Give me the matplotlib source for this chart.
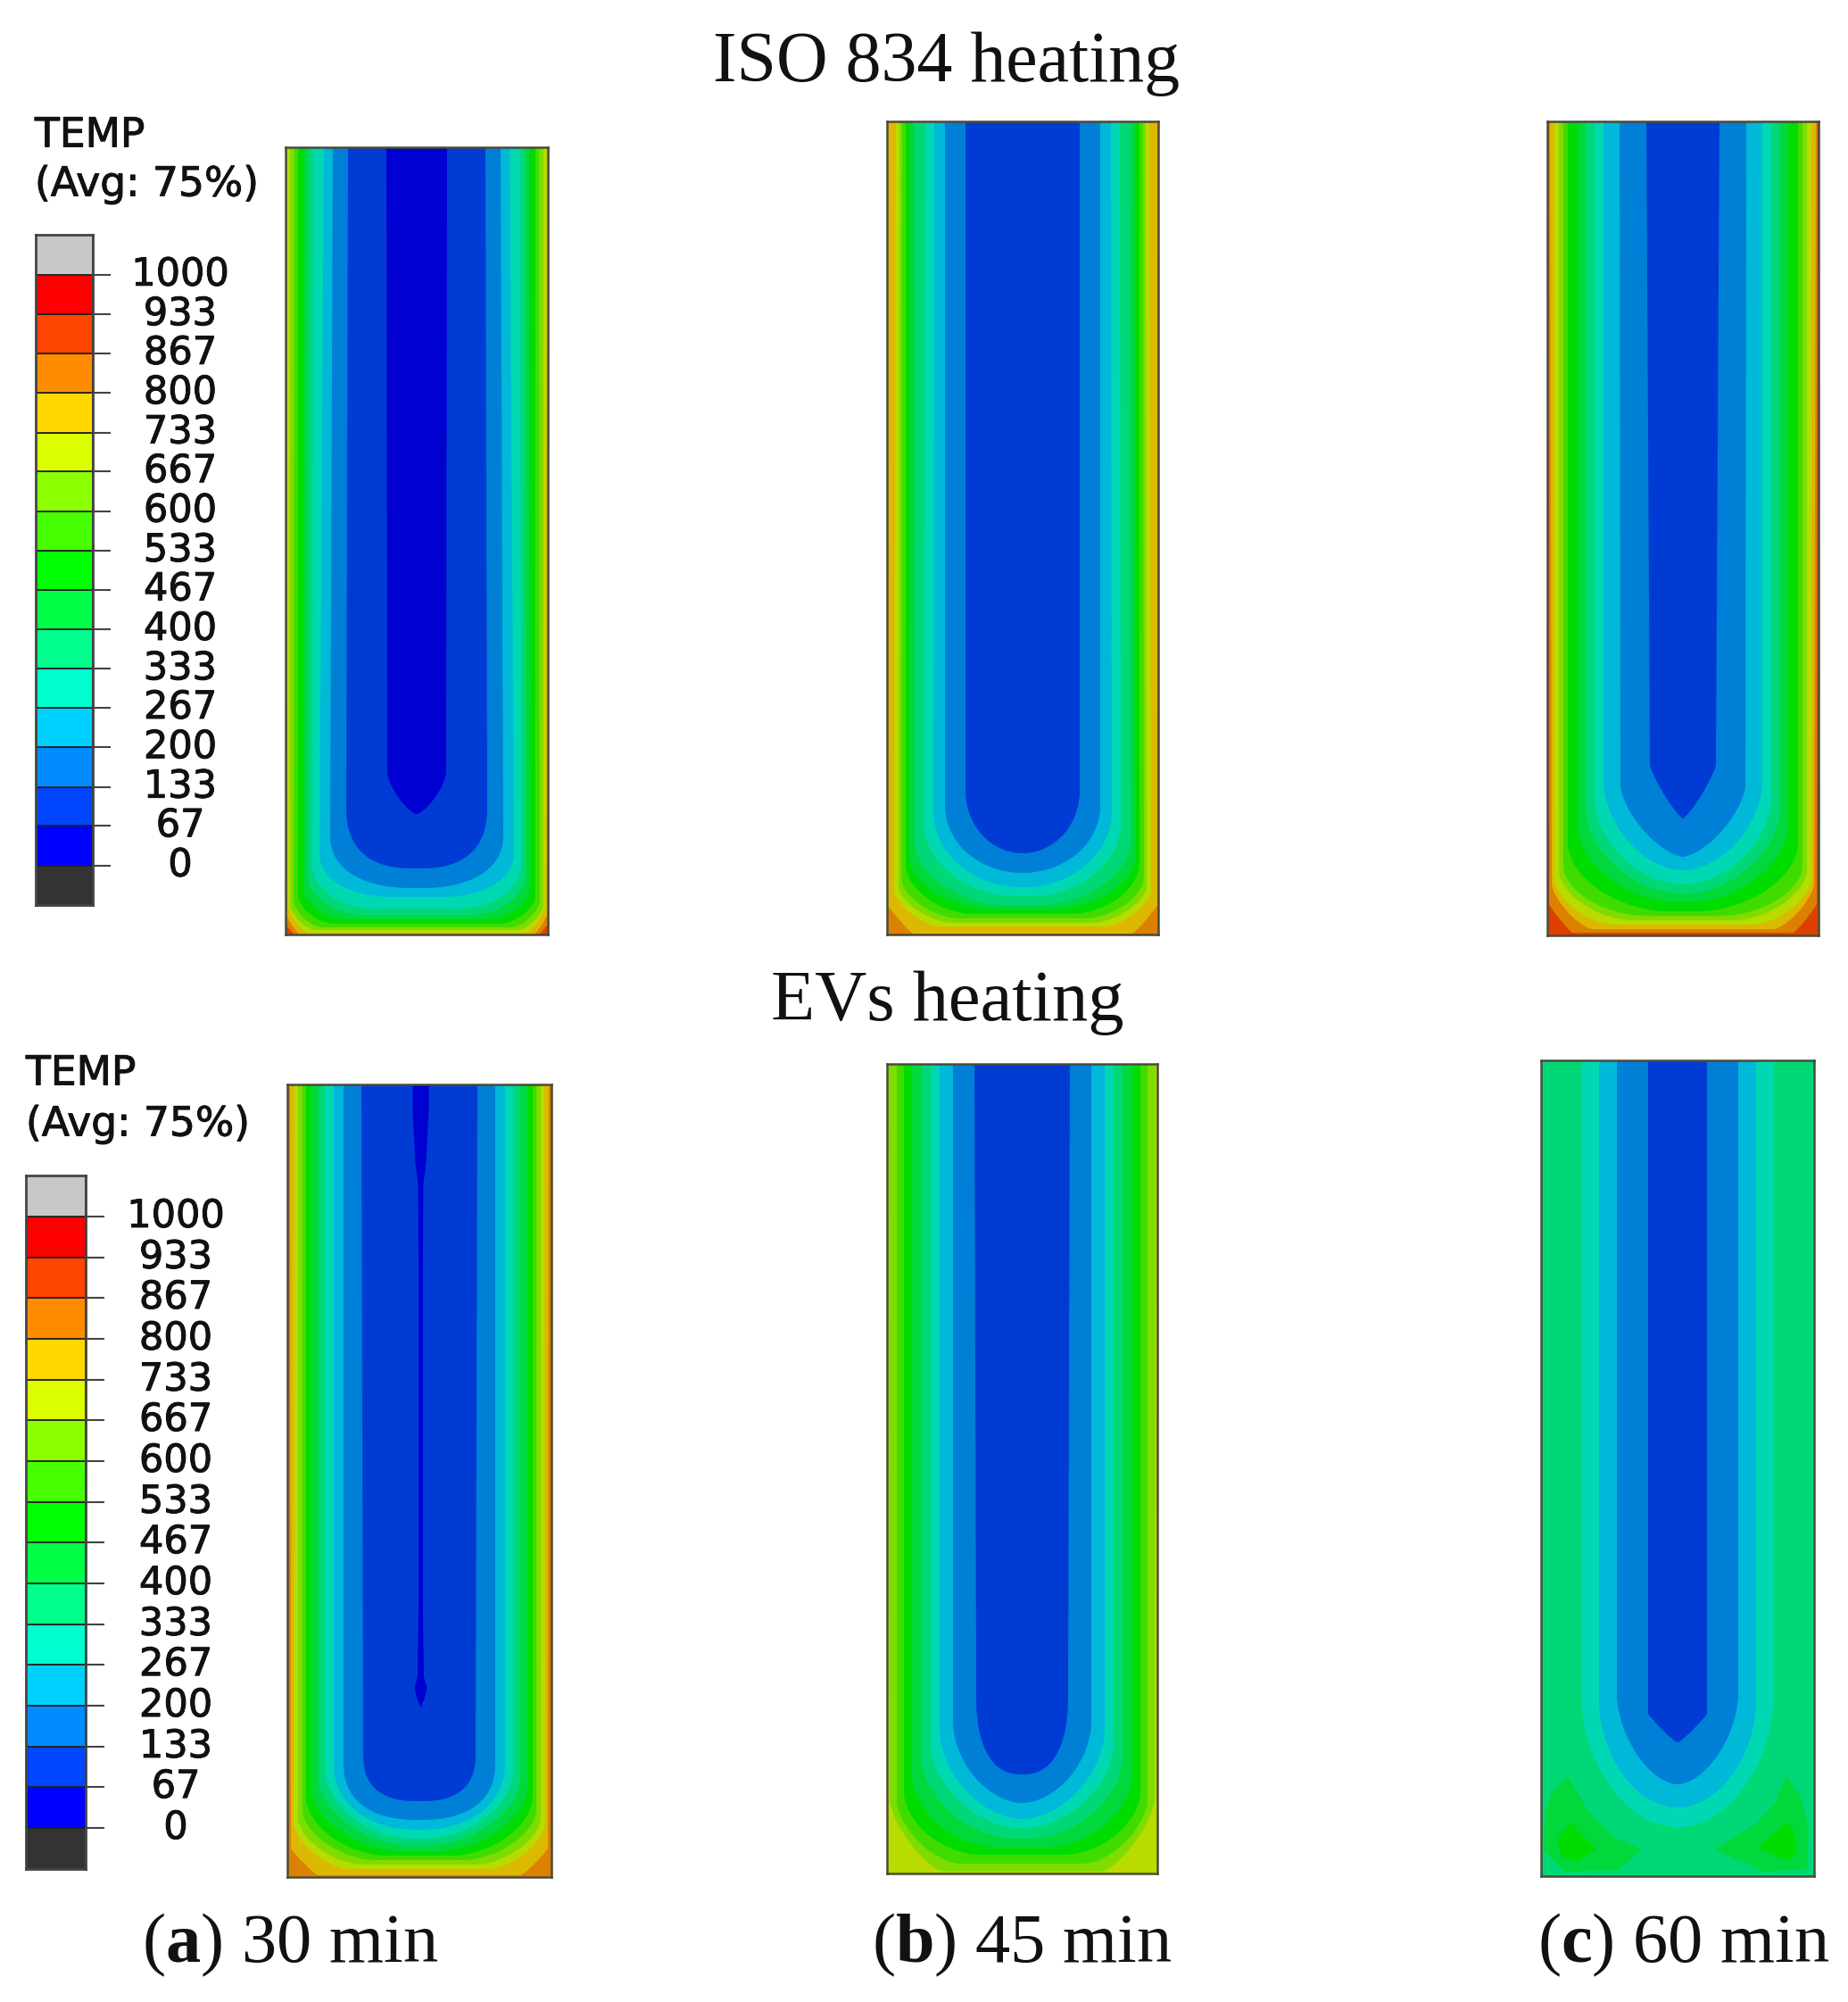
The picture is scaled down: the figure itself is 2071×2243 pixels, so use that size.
import numpy as np
import matplotlib
matplotlib.use("Agg")
import matplotlib.pyplot as plt
import matplotlib.patheffects as pe

plt.rcParams["mathtext.fontset"] = "custom"
plt.rcParams["mathtext.rm"] = "Liberation Serif"
plt.rcParams["mathtext.bf"] = "Liberation Serif:bold"

FIG_W, FIG_H = 2071, 2243

# ---- legend data ----
LEGEND_TICKS = [0, 67, 133, 200, 267, 333, 400, 467, 533, 600, 667, 733, 800, 867, 933, 1000]
LEGEND_LOW = -67
LEGEND_HIGH = 1067
LEGEND_COLORS = ["#333333", "#0000ff", "#0046ff", "#008cff", "#00d0ff", "#00ffd0", "#00ff8c", "#00ff46",
                 "#00ff00", "#46ff00", "#8cff00", "#dcff00", "#ffd800", "#ff8c00", "#ff4600", "#ff0000", "#c8c8c8"]

# colours of the temperature bands as they appear in the shaded panels (coldest first)
BANDS = ["#0000d0", "#003cd4", "#007fd6", "#00b8d8", "#00d8b4", "#00d878", "#00d83c", "#00dc00",
         "#40dc00", "#7fdc00", "#b8dc00", "#dcb800", "#dc8000", "#dc4000", "#dc0000"]

# ---- contour data ----
# each row: band, inset at top, inset low on the side, inset at bottom, corner width, corner height, squareness
ISO_30 = [(0, 113, 114, 135, 34, 46, 1.4), (1, 70, 68, 74, 77, 70, 2.5), (2, 53, 50, 52, 94, 60, 2.3),
          (3, 43, 38, 42, 85, 50, 2.2), (4, 31, 30, 29, 70, 50, 2.0), (5, 25, 25, 22, 60, 42, 1.8),
          (6, 21, 20, 17, 48, 36, 1.8), (7, 14, 14, 12, 40, 32, 1.7), (8, 10, 9, 8, 32, 30, 1.6),
          (9, 5, 5, 5, 28, 28, 1.5), (10, 1, 3, 2, 22, 30, 1.4), (11, 0, 0, 0, 16, 24, 1.2), (12, 0, 0, 0, 10, 12, 1.1)]
ISO_45 = [(1, 88, 88, 91, 64, 70, 2.0), (2, 65, 65, 69, 87, 75, 2.0), (3, 53, 52, 53, 99, 85, 2.0),
          (4, 43, 42, 43, 100, 80, 1.9), (5, 31, 31, 33, 100, 70, 1.8), (6, 26, 25, 28, 90, 60, 1.8),
          (7, 21, 21, 23, 75, 55, 1.8), (8, 17, 16, 18, 65, 45, 1.7), (9, 14, 13, 13, 60, 40, 1.6),
          (10, 10, 8, 9, 50, 40, 1.5), (11, 0.5, 1, 1, 28, 32, 1.1)]
ISO_60 = [(1, 111, 115, 131, 41, 60, 1.2), (2, 81, 82, 88, 70, 80, 1.5), (3, 63, 63, 73, 88, 100, 1.8),
          (4, 53, 53, 58, 95, 95, 1.8), (5, 43, 43, 47, 105, 95, 1.8), (6, 34, 34, 37, 110, 85, 1.8),
          (7, 23, 23, 27, 110, 75, 1.8), (8, 18, 18, 22, 90, 55, 1.8), (9, 13, 13, 17, 80, 55, 1.7),
          (10, 8, 8, 12, 65, 50, 1.6), (11, 3, 5, 7, 45, 50, 1.4), (12, 1, 2, 3, 26, 32, 1.1)]
EVS_30 = [(1, 83, 85, 85, 63, 55, 2.6), (2, 63, 63, 64, 85, 65, 2.4), (3, 52, 52, 53, 96, 75, 2.2),
          (4, 42, 42, 43, 100, 80, 1.9), (5, 35, 35, 36, 100, 75, 1.8), (6, 27, 27, 29, 100, 70, 1.8),
          (7, 21, 21, 24, 90, 65, 1.8), (8, 17, 17, 19, 80, 55, 1.7), (9, 12, 12, 14, 70, 50, 1.6),
          (10, 8, 7, 9, 60, 50, 1.5), (11, 3, 4, 2, 30, 30, 1.1)]
EVS_45 = [(1, 98, 100, 111, 51, 90, 2.4), (2, 74, 74, 79, 77, 90, 1.8), (3, 59, 59, 61, 92, 100, 1.8),
          (4, 49, 49, 51, 100, 95, 1.8), (5, 39, 39, 39, 105, 90, 1.8), (6, 28, 28, 29, 95, 80, 1.8),
          (7, 19, 19, 21, 85, 70, 1.8), (8, 11, 11, 11, 70, 70, 1.6), (9, 2, 3, 2, 60, 80, 1.4)]
EVS_60 = [(1, 120, 120, 150, 32, 32, 1.1), (2, 85, 85, 103, 67, 100, 1.7), (3, 65, 65, 77, 87, 120, 1.9),
          (4, 45, 45, 55, 107, 150, 1.9)]

# thin colder core of the EVs 30 min panel: height above base, half width
EVS_30_CORE_H = [888, 860, 800, 777, 700, 560, 300, 225, 212, 200, 191]
EVS_30_CORE_W = [9, 9, 6, 3, 2.5, 2.5, 2.5, 3.5, 7, 4, 0]

# warmer lobes of the EVs 60 min panel
EVS_60_LOBES = [
    (6, [(30, 112), (13, 95), (5, 75), (3, 28), (27, 5), (87, 7), (113, 30), (80, 45), (53, 73)]),
    (6, [(275, 112), (262, 82), (240, 58), (193, 30), (250, 5), (298, 8), (300, 55), (292, 88)]),
    (7, [(33, 60), (18, 42), (22, 22), (40, 17), (62, 30)]),
    (7, [(275, 60), (243, 32), (277, 17), (287, 28), (282, 55)]),
]

# panel frame in figure pixels: left, right, top, bottom, outer band, contours
PANELS = [
    (320, 614, 165, 1047, 13, ISO_30),
    (994, 1298, 136, 1047, 12, ISO_45),
    (1734, 2038, 136, 1048, 13, ISO_60),
    (322, 618, 1215, 2103, 12, EVS_30),
    (994, 1297, 1192, 2099, 10, EVS_45),
    (1727, 2033, 1188, 2102, 5, EVS_60),
]


def u_contour(W, H, s_top, s_low, b, rx, ry, p, n=40):
    rx = min(rx, W / 2 - s_low)
    t = np.linspace(0, np.pi / 2, n)
    ax_ = s_low + rx * (1 - np.cos(t) ** (2 / p))
    ay_ = b + ry * (1 - np.sin(t) ** (2 / p))
    x = np.r_[s_top, ax_, W - ax_[::-1], W - s_top]
    y = np.r_[H + 5, ay_, ay_[::-1], H + 5]
    return x, y


fig = plt.figure(figsize=(FIG_W / 100, FIG_H / 100), dpi=100, facecolor="white")

for idx, (l, r, t, bot, outer, rows) in enumerate(PANELS):
    ax = fig.add_axes([l / FIG_W, 1 - bot / FIG_H, (r - l) / FIG_W, (bot - t) / FIG_H])
    W, H = r - l, bot - t
    ax.set_xlim(0, W)
    ax.set_ylim(0, H)
    ax.set_xticks([])
    ax.set_yticks([])
    ax.set_facecolor(BANDS[outer])
    if rows is EVS_60:
        for level, pts in EVS_60_LOBES:
            xs, ys = zip(*pts)
            ax.fill(xs, ys, color=BANDS[level], lw=0)
    for k, s_top, s_low, b, rx, ry, p in sorted(rows, key=lambda q: -q[0]):
        x, y = u_contour(W, H, s_top, s_low, b, rx, ry, p)
        ax.fill(x, y, color=BANDS[k], lw=0)
    if rows is EVS_30:
        ch = np.array(EVS_30_CORE_H)
        cw = np.array(EVS_30_CORE_W)
        ax.fill_betweenx(ch, W / 2 + 1 - cw, W / 2 + 1 + cw, color=BANDS[0], lw=0)
    for s in ax.spines.values():
        s.set_color("#4a4a3a")
        s.set_linewidth(1.8)

HEAVY = [pe.withStroke(linewidth=0.7, foreground="#111111")]


def legend(left, right, top, bottom, tick_end, label_x, title_y, avg_y, title_x):
    ax = fig.add_axes([left / FIG_W, 1 - bottom / FIG_H, (right - left) / FIG_W, (bottom - top) / FIG_H])
    edges = [LEGEND_LOW] + LEGEND_TICKS + [LEGEND_HIGH]
    ax.bar(0, np.diff(edges), bottom=edges[:-1], width=1, color=LEGEND_COLORS, edgecolor="#222222", linewidth=1.3)
    ax.set_xlim(-0.5, 0.5)
    ax.set_ylim(LEGEND_LOW, LEGEND_HIGH)
    ax.set_xticks([])
    ax.yaxis.tick_right()
    ax.set_yticks(LEGEND_TICKS)
    labels = ax.set_yticklabels([str(v) for v in LEGEND_TICKS], ha="center", va="center", fontsize=31, color="#111111")
    for lab in labels:
        lab.set_path_effects(HEAVY)
    ax.tick_params(axis="y", length=(tick_end - right) * 0.72, width=1.5, color="#444444",
                   pad=(label_x - tick_end) * 0.72)
    for s in ax.spines.values():
        s.set_color("#444444")
        s.set_linewidth(2)
    for text, y in (("TEMP", title_y), ("(Avg: 75%)", avg_y)):
        fig.text(title_x / FIG_W, 1 - y / FIG_H, text, fontsize=32.8, color="#111111", ha="left", va="center",
                 path_effects=HEAVY)


legend(40, 104, 263.5, 1014, 124, 202, 152, 207, 39)
legend(29, 96, 1317, 2094, 117, 197, 1203, 1260, 29)

SERIF = "Liberation Serif"
fig.text(1061 / FIG_W, 1 - 72 / FIG_H, "ISO 834 heating", family=SERIF, fontsize=57.5, ha="center", va="center", color="#111111")
fig.text(1062 / FIG_W, 1 - 1124 / FIG_H, "EVs heating", family=SERIF, fontsize=58, ha="center", va="center", color="#111111")

CAPTIONS = [("a", "30 min", 159), ("b", "45 min", 977), ("c", "60 min", 1723)]
for letter, when, x0 in CAPTIONS:
    fig.text(x0 / FIG_W, 1 - 2179 / FIG_H, f"($\\mathbf{{{letter}}}$) {when}", family=SERIF, fontsize=56.5,
             ha="left", va="center", color="#111111")

fig.savefig("out.png", dpi=100, facecolor="white")
